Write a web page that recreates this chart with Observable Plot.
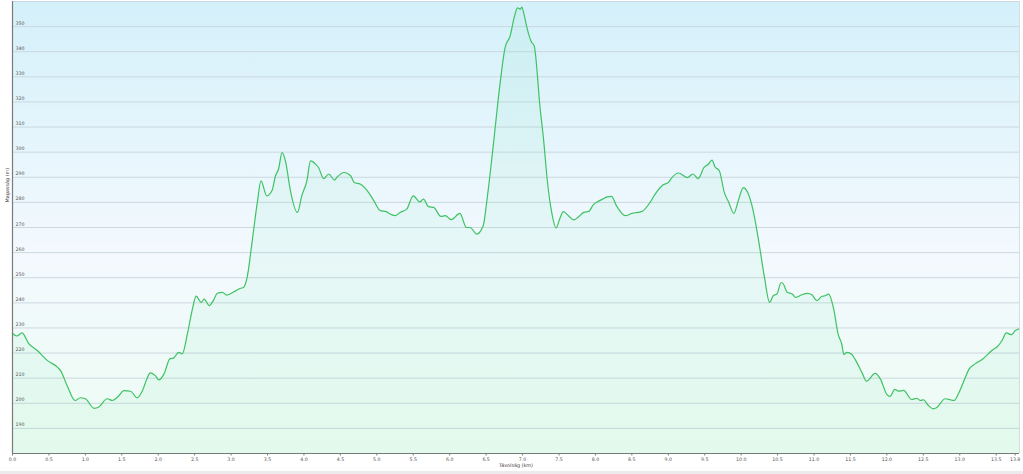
<!DOCTYPE html>
<html>
<head>
<meta charset="utf-8">
<script src="https://cdn.jsdelivr.net/npm/d3@7"></script>
<script src="https://cdn.jsdelivr.net/npm/@observablehq/plot@0.6"></script>
<style>
  html, body { margin: 0; padding: 0; background: #ffffff; }
  #chart svg { display: block; }
  #band { height: 3px; background: #ebebeb; }
</style>
</head>
<body>
<div id="chart"></div>
<div id="band"></div>
<script>
const distanceKm = [
  0.00, 0.06, 0.13, 0.22, 0.34, 0.48, 0.62, 0.66, 0.75, 0.86, 0.93, 1.00, 1.12, 1.18, 1.30, 1.37, 1.44, 1.53, 1.62, 1.71,
  1.78, 1.85, 1.89, 1.96, 2.01, 2.08, 2.16, 2.21, 2.28, 2.33, 2.40, 2.47, 2.52, 2.59, 2.63, 2.70, 2.76, 2.81, 2.88, 2.94,
  3.04, 3.13, 3.17, 3.22, 3.29, 3.36, 3.41, 3.49, 3.56, 3.61, 3.65, 3.70, 3.75, 3.81, 3.91, 3.97, 4.04, 4.09, 4.16, 4.20,
  4.27, 4.34, 4.42, 4.45, 4.55, 4.64, 4.69, 4.77, 4.87, 4.96, 5.05, 5.12, 5.19, 5.25, 5.32, 5.41, 5.50, 5.59, 5.64, 5.71,
  5.78, 5.88, 5.94, 6.02, 6.14, 6.23, 6.28, 6.37, 6.46, 6.51, 6.60, 6.69, 6.76, 6.83, 6.89, 6.93, 6.97, 6.99, 7.02, 7.06,
  7.12, 7.16, 7.24, 7.29, 7.34, 7.40, 7.46, 7.51, 7.56, 7.63, 7.70, 7.77, 7.84, 7.91, 7.97, 8.04, 8.10, 8.16, 8.22, 8.29,
  8.41, 8.50, 8.64, 8.75, 8.82, 8.93, 9.00, 9.05, 9.14, 9.26, 9.34, 9.41, 9.49, 9.55, 9.60, 9.64, 9.70, 9.77, 9.83, 9.90,
  9.96, 10.03, 10.09, 10.16, 10.24, 10.32, 10.39, 10.44, 10.49, 10.55, 10.58, 10.63, 10.70, 10.75, 10.83, 10.91, 10.97, 11.04, 11.11, 11.15,
  11.20, 11.27, 11.33, 11.38, 11.41, 11.45, 11.52, 11.56, 11.66, 11.72, 11.84, 11.91, 12.00, 12.04, 12.11, 12.16, 12.23, 12.34, 12.41, 12.46,
  12.50, 12.57, 12.64, 12.68, 12.80, 12.87, 12.92, 12.98, 13.05, 13.13, 13.21, 13.32, 13.44, 13.53, 13.58, 13.64, 13.71, 13.76, 13.82
];
const elevationM = [
  227.8, 226.8, 228.0, 223.9, 221.0, 217.0, 214.3, 213.0, 207.0, 201.1, 202.2, 201.8, 198.0, 198.4, 201.8, 201.1, 202.4, 205.0, 204.8, 202.2,
  204.8, 210.1, 212.1, 211.0, 209.3, 211.7, 217.7, 218.0, 220.3, 219.7, 227.6, 237.6, 242.7, 240.2, 241.5, 238.9, 241.1, 243.8, 244.2, 243.1,
  244.4, 245.8, 246.1, 250.1, 264.7, 280.0, 288.6, 282.6, 284.6, 290.6, 293.2, 299.8, 295.9, 285.3, 276.0, 282.6, 288.6, 296.5, 295.2, 293.9,
  289.5, 291.3, 288.9, 289.9, 291.9, 290.6, 287.9, 287.3, 284.6, 280.6, 276.7, 276.4, 275.3, 274.7, 276.0, 277.3, 282.6, 280.2, 281.3, 278.3,
  278.0, 274.4, 274.7, 273.1, 275.6, 270.0, 270.0, 267.4, 270.7, 280.6, 303.2, 327.0, 341.6, 346.3, 354.2, 357.5, 356.9, 357.8, 354.9, 349.6,
  344.0, 342.3, 317.8, 304.5, 288.6, 276.0, 269.8, 273.4, 276.3, 274.7, 273.0, 274.3, 276.0, 276.4, 279.0, 280.4, 281.3, 282.2, 282.4, 278.6,
  274.7, 275.6, 276.4, 280.0, 283.3, 287.0, 287.9, 289.9, 291.7, 289.9, 291.3, 289.5, 293.9, 295.2, 296.8, 294.2, 292.6, 283.9, 280.0, 275.6,
  280.6, 285.9, 283.9, 277.3, 264.7, 250.1, 240.2, 242.8, 243.5, 248.1, 247.5, 244.2, 243.5, 242.2, 243.2, 243.8, 243.2, 240.9, 242.6, 242.8,
  243.5, 237.6, 227.6, 223.6, 219.4, 220.3, 219.4, 217.7, 212.1, 208.8, 211.9, 209.7, 203.5, 202.7, 205.5, 204.8, 205.1, 201.5, 202.0, 201.1,
  201.4, 199.1, 197.8, 198.2, 201.8, 201.4, 201.1, 203.7, 208.4, 213.7, 215.7, 217.7, 221.0, 223.0, 225.0, 228.0, 227.3, 228.9, 229.6
];
const yTicks = [190, 200, 210, 220, 230, 240, 250, 260, 270, 280, 290, 300, 310, 320, 330, 340, 350];
const yGrid = [190, 200, 210, 220, 230, 240, 250, 260, 270, 280, 290, 300, 310, 320, 330, 340, 350, 360];
const xTicks = [0, 0.5, 1, 1.5, 2, 2.5, 3, 3.5, 4, 4.5, 5, 5.5, 6, 6.5, 7, 7.5, 8, 8.5, 9, 9.5, 10, 10.5, 11, 11.5, 12, 12.5, 13, 13.5, 13.76];
const xTitle = "Távolság (km)";
const yTitle = "Magasság (m)";

const data = distanceKm.map((d, i) => ({km: d, elev: elevationM[i]}));

const plot = Plot.plot({
  width: 1023,
  height: 471,
  marginLeft: 12,
  marginRight: 4,
  marginTop: 1,
  marginBottom: 18,
  x: {domain: [0, 13.82]},
  y: {domain: [180, 360]},
  style: {fontFamily: "DejaVu Sans, sans-serif", fontSize: "4.7px", color: "#555", background: "#fff"},
  marks: [
    Plot.frame({fill: "url(#bgGrad)", stroke: null}),
    Plot.gridY(yGrid, {stroke: "#cbd8df", strokeOpacity: 1, strokeWidth: 1}),
    Plot.areaY(data, {x: "km", y1: 180, y2: "elev", fill: "#3ad98a", fillOpacity: 0.06, curve: "monotone-x"}),
    Plot.lineY(data, {x: "km", y: "elev", stroke: "#3ec262", strokeWidth: 1.2, curve: "monotone-x"}),
    Plot.text(yTicks, {y: d => d, frameAnchor: "left", dx: 3, dy: -3.5, textAnchor: "start", text: d => String(d), fill: "#555", fontSize: 4.7}),
    Plot.ruleX([0], {stroke: "#7a7a7a", strokeWidth: 1.2}),
    Plot.ruleX([13.82], {stroke: "#d5dde0", strokeWidth: 1}),
    Plot.ruleY([180], {stroke: "#7a7a7a", strokeWidth: 1.2}),
    Plot.axisX(xTicks, {tickSize: 2.5, tickPadding: 2, tickFormat: d => d.toFixed(1), stroke: "#7a7a7a", fill: "#555", fontSize: 4.7, label: null}),
    Plot.axisY({ticks: [], label: null, tickSize: 0}),
    Plot.text([xTitle], {frameAnchor: "bottom", dy: 13, text: d => d, fill: "#444", fontSize: 4.9}),
    Plot.text([yTitle], {frameAnchor: "left", y: [280], dx: -5, rotate: -90, text: d => d, fill: "#444", fontSize: 4.9})
  ]
});

const svg = d3.select(plot);
const defs = svg.insert("defs", ":first-child");
const grad = defs.append("linearGradient").attr("id", "bgGrad").attr("x1", 0).attr("y1", 0).attr("x2", 0).attr("y2", 1);
grad.append("stop").attr("offset", "0%").attr("stop-color", "#d4f0fa");
grad.append("stop").attr("offset", "55%").attr("stop-color", "#f3f9fe");
grad.append("stop").attr("offset", "100%").attr("stop-color", "#edfcf3");

document.getElementById("chart").appendChild(plot);
</script>
</body>
</html>
